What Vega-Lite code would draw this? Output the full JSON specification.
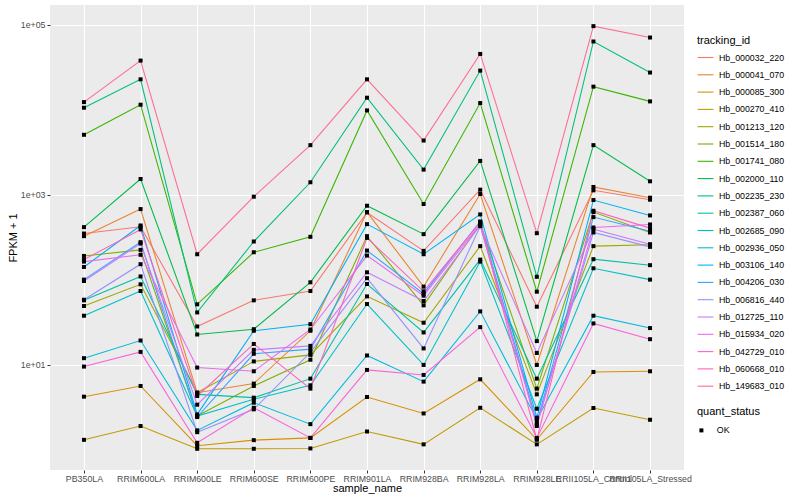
{
 "$schema": "https://vega.github.io/schema/vega-lite/v6.json",
 "width": 634, "height": 465,
 "autosize": {"type": "none"},
 "padding": {"left": 50, "top": 5, "right": 116, "bottom": 30},
 "background": "white",
 "config": {
   "font": "Liberation Sans",
   "view": {"fill": "#EBEBEB", "stroke": null},
   "axis": {"labelFont": "Liberation Sans", "labelFontSize": 8.8, "labelColor": "#4D4D4D", "titleFont": "Liberation Sans", "titleFontSize": 11, "titleFontWeight": "normal", "titleColor": "black", "tickColor": "#333333", "tickSize": 3, "domain": false, "gridColor": "white", "gridWidth": 1.1, "labelPadding": 2},
   "legend": {"titleFont": "Liberation Sans", "labelFont": "Liberation Sans", "titleFontSize": 11, "titleFontWeight": "normal", "labelFontSize": 8.8, "labelColor": "black", "titleColor": "black"}
 },
 "data": {"values": [
  {"id":"Hb_000032_220","s":"PB350LA","v":349},{"id":"Hb_000032_220","s":"RRIM600LA","v":419},{"id":"Hb_000032_220","s":"RRIM600LE","v":28.1},{"id":"Hb_000032_220","s":"RRIM600SE","v":57},{"id":"Hb_000032_220","s":"RRIM600PE","v":73.5},{"id":"Hb_000032_220","s":"RRIM901LA","v":618},{"id":"Hb_000032_220","s":"RRIM928BA","v":218},{"id":"Hb_000032_220","s":"RRIM928LA","v":1146},{"id":"Hb_000032_220","s":"RRIM928LE","v":48},{"id":"Hb_000032_220","s":"RRII105LA_Control","v":1125},{"id":"Hb_000032_220","s":"RRII105LA_Stressed","v":873},
  {"id":"Hb_000041_070","s":"PB350LA","v":325},{"id":"Hb_000041_070","s":"RRIM600LA","v":677},{"id":"Hb_000041_070","s":"RRIM600LE","v":4.67},{"id":"Hb_000041_070","s":"RRIM600SE","v":5.97},{"id":"Hb_000041_070","s":"RRIM600PE","v":25},{"id":"Hb_000041_070","s":"RRIM901LA","v":624},{"id":"Hb_000041_070","s":"RRIM928BA","v":82.7},{"id":"Hb_000041_070","s":"RRIM928LA","v":1018},{"id":"Hb_000041_070","s":"RRIM928LE","v":9.9},{"id":"Hb_000041_070","s":"RRII105LA_Control","v":1233},{"id":"Hb_000041_070","s":"RRII105LA_Stressed","v":922},
  {"id":"Hb_000085_300","s":"PB350LA","v":4.19},{"id":"Hb_000085_300","s":"RRIM600LA","v":5.6},{"id":"Hb_000085_300","s":"RRIM600LE","v":1.11},{"id":"Hb_000085_300","s":"RRIM600SE","v":1.29},{"id":"Hb_000085_300","s":"RRIM600PE","v":1.37},{"id":"Hb_000085_300","s":"RRIM901LA","v":4.15},{"id":"Hb_000085_300","s":"RRIM928BA","v":2.66},{"id":"Hb_000085_300","s":"RRIM928LA","v":6.71},{"id":"Hb_000085_300","s":"RRIM928LE","v":1.31},{"id":"Hb_000085_300","s":"RRII105LA_Control","v":8.19},{"id":"Hb_000085_300","s":"RRII105LA_Stressed","v":8.34},
  {"id":"Hb_000270_410","s":"PB350LA","v":1.3},{"id":"Hb_000270_410","s":"RRIM600LA","v":1.89},{"id":"Hb_000270_410","s":"RRIM600LE","v":1.02},{"id":"Hb_000270_410","s":"RRIM600SE","v":1.02},{"id":"Hb_000270_410","s":"RRIM600PE","v":1.03},{"id":"Hb_000270_410","s":"RRIM901LA","v":1.63},{"id":"Hb_000270_410","s":"RRIM928BA","v":1.15},{"id":"Hb_000270_410","s":"RRIM928LA","v":3.1},{"id":"Hb_000270_410","s":"RRIM928LE","v":1.15},{"id":"Hb_000270_410","s":"RRII105LA_Control","v":3.08},{"id":"Hb_000270_410","s":"RRII105LA_Stressed","v":2.24},
  {"id":"Hb_001213_120","s":"PB350LA","v":48.9},{"id":"Hb_001213_120","s":"RRIM600LA","v":88.1},{"id":"Hb_001213_120","s":"RRIM600LE","v":4.67},{"id":"Hb_001213_120","s":"RRIM600SE","v":10.9},{"id":"Hb_001213_120","s":"RRIM600PE","v":13},{"id":"Hb_001213_120","s":"RRIM901LA","v":63.5},{"id":"Hb_001213_120","s":"RRIM928BA","v":31.1},{"id":"Hb_001213_120","s":"RRIM928LA","v":248},{"id":"Hb_001213_120","s":"RRIM928LE","v":4.46},{"id":"Hb_001213_120","s":"RRII105LA_Control","v":248},{"id":"Hb_001213_120","s":"RRII105LA_Stressed","v":257},
  {"id":"Hb_001514_180","s":"PB350LA","v":190},{"id":"Hb_001514_180","s":"RRIM600LA","v":224},{"id":"Hb_001514_180","s":"RRIM600LE","v":2.48},{"id":"Hb_001514_180","s":"RRIM600SE","v":5.6},{"id":"Hb_001514_180","s":"RRIM600PE","v":11.4},{"id":"Hb_001514_180","s":"RRIM901LA","v":325},{"id":"Hb_001514_180","s":"RRIM928BA","v":49.8},{"id":"Hb_001514_180","s":"RRIM928LA","v":454},{"id":"Hb_001514_180","s":"RRIM928LE","v":5.21},{"id":"Hb_001514_180","s":"RRII105LA_Control","v":624},{"id":"Hb_001514_180","s":"RRII105LA_Stressed","v":359},
  {"id":"Hb_001741_080","s":"PB350LA","v":5070},{"id":"Hb_001741_080","s":"RRIM600LA","v":11460},{"id":"Hb_001741_080","s":"RRIM600LE","v":51.2},{"id":"Hb_001741_080","s":"RRIM600SE","v":210},{"id":"Hb_001741_080","s":"RRIM600PE","v":319},{"id":"Hb_001741_080","s":"RRIM901LA","v":9820},{"id":"Hb_001741_080","s":"RRIM928BA","v":776},{"id":"Hb_001741_080","s":"RRIM928LA","v":11990},{"id":"Hb_001741_080","s":"RRIM928LE","v":72.1},{"id":"Hb_001741_080","s":"RRII105LA_Control","v":18700},{"id":"Hb_001741_080","s":"RRII105LA_Stressed","v":12540},
  {"id":"Hb_002000_110","s":"PB350LA","v":415},{"id":"Hb_002000_110","s":"RRIM600LA","v":1531},{"id":"Hb_002000_110","s":"RRIM600LE","v":22.6},{"id":"Hb_002000_110","s":"RRIM600SE","v":26.1},{"id":"Hb_002000_110","s":"RRIM600PE","v":93},{"id":"Hb_002000_110","s":"RRIM901LA","v":741},{"id":"Hb_002000_110","s":"RRIM928BA","v":343},{"id":"Hb_002000_110","s":"RRIM928LA","v":2500},{"id":"Hb_002000_110","s":"RRIM928LE","v":18.9},{"id":"Hb_002000_110","s":"RRII105LA_Control","v":3830},{"id":"Hb_002000_110","s":"RRII105LA_Stressed","v":1437},
  {"id":"Hb_002235_230","s":"PB350LA","v":10560},{"id":"Hb_002235_230","s":"RRIM600LA","v":22800},{"id":"Hb_002235_230","s":"RRIM600LE","v":41.1},{"id":"Hb_002235_230","s":"RRIM600SE","v":281},{"id":"Hb_002235_230","s":"RRIM600PE","v":1400},{"id":"Hb_002235_230","s":"RRIM901LA","v":13860},{"id":"Hb_002235_230","s":"RRIM928BA","v":1973},{"id":"Hb_002235_230","s":"RRIM928LA","v":28900},{"id":"Hb_002235_230","s":"RRIM928LE","v":108},{"id":"Hb_002235_230","s":"RRII105LA_Control","v":63600},{"id":"Hb_002235_230","s":"RRII105LA_Stressed","v":27400},
  {"id":"Hb_002387_060","s":"PB350LA","v":57},{"id":"Hb_002387_060","s":"RRIM600LA","v":109},{"id":"Hb_002387_060","s":"RRIM600LE","v":4.46},{"id":"Hb_002387_060","s":"RRIM600SE","v":4.08},{"id":"Hb_002387_060","s":"RRIM600PE","v":6.83},{"id":"Hb_002387_060","s":"RRIM901LA","v":88.9},{"id":"Hb_002387_060","s":"RRIM928BA","v":23.9},{"id":"Hb_002387_060","s":"RRIM928LA","v":172},{"id":"Hb_002387_060","s":"RRIM928LE","v":6.83},{"id":"Hb_002387_060","s":"RRII105LA_Control","v":174},{"id":"Hb_002387_060","s":"RRII105LA_Stressed","v":148},
  {"id":"Hb_002685_090","s":"PB350LA","v":37.6},{"id":"Hb_002685_090","s":"RRIM600LA","v":73.5},{"id":"Hb_002685_090","s":"RRIM600LE","v":2.48},{"id":"Hb_002685_090","s":"RRIM600SE","v":3.9},{"id":"Hb_002685_090","s":"RRIM600PE","v":5.7},{"id":"Hb_002685_090","s":"RRIM901LA","v":51.6},{"id":"Hb_002685_090","s":"RRIM928BA","v":9.9},{"id":"Hb_002685_090","s":"RRIM928LA","v":163},{"id":"Hb_002685_090","s":"RRIM928LE","v":3.02},{"id":"Hb_002685_090","s":"RRII105LA_Control","v":136},{"id":"Hb_002685_090","s":"RRII105LA_Stressed","v":100},
  {"id":"Hb_002936_050","s":"PB350LA","v":11.9},{"id":"Hb_002936_050","s":"RRIM600LA","v":19.2},{"id":"Hb_002936_050","s":"RRIM600LE","v":1.68},{"id":"Hb_002936_050","s":"RRIM600SE","v":3.56},{"id":"Hb_002936_050","s":"RRIM600PE","v":1.99},{"id":"Hb_002936_050","s":"RRIM901LA","v":12.8},{"id":"Hb_002936_050","s":"RRIM928BA","v":6.3},{"id":"Hb_002936_050","s":"RRIM928LA","v":42.3},{"id":"Hb_002936_050","s":"RRIM928LE","v":2.26},{"id":"Hb_002936_050","s":"RRII105LA_Control","v":37.6},{"id":"Hb_002936_050","s":"RRII105LA_Stressed","v":26.9},
  {"id":"Hb_003106_140","s":"PB350LA","v":141},{"id":"Hb_003106_140","s":"RRIM600LA","v":434},{"id":"Hb_003106_140","s":"RRIM600LE","v":2.59},{"id":"Hb_003106_140","s":"RRIM600SE","v":25},{"id":"Hb_003106_140","s":"RRIM600PE","v":29.9},{"id":"Hb_003106_140","s":"RRIM901LA","v":450},{"id":"Hb_003106_140","s":"RRIM928BA","v":199},{"id":"Hb_003106_140","s":"RRIM928LA","v":586},{"id":"Hb_003106_140","s":"RRIM928LE","v":2.37},{"id":"Hb_003106_140","s":"RRII105LA_Control","v":865},{"id":"Hb_003106_140","s":"RRII105LA_Stressed","v":570},
  {"id":"Hb_004206_030","s":"PB350LA","v":100},{"id":"Hb_004206_030","s":"RRIM600LA","v":276},{"id":"Hb_004206_030","s":"RRIM600LE","v":2.41},{"id":"Hb_004206_030","s":"RRIM600SE","v":13.4},{"id":"Hb_004206_030","s":"RRIM600PE","v":15.2},{"id":"Hb_004206_030","s":"RRIM901LA","v":220},{"id":"Hb_004206_030","s":"RRIM928BA","v":68.3},{"id":"Hb_004206_030","s":"RRIM928LA","v":484},{"id":"Hb_004206_030","s":"RRIM928LE","v":2.07},{"id":"Hb_004206_030","s":"RRII105LA_Control","v":545},{"id":"Hb_004206_030","s":"RRII105LA_Stressed","v":372},
  {"id":"Hb_006816_440","s":"PB350LA","v":58},{"id":"Hb_006816_440","s":"RRIM600LA","v":152},{"id":"Hb_006816_440","s":"RRIM600LE","v":1.6},{"id":"Hb_006816_440","s":"RRIM600SE","v":2.97},{"id":"Hb_006816_440","s":"RRIM600PE","v":13.9},{"id":"Hb_006816_440","s":"RRIM901LA","v":104},{"id":"Hb_006816_440","s":"RRIM928BA","v":15.5},{"id":"Hb_006816_440","s":"RRIM928LA","v":426},{"id":"Hb_006816_440","s":"RRIM928LE","v":1.97},{"id":"Hb_006816_440","s":"RRII105LA_Control","v":359},{"id":"Hb_006816_440","s":"RRII105LA_Stressed","v":243},
  {"id":"Hb_012725_110","s":"PB350LA","v":96.4},{"id":"Hb_012725_110","s":"RRIM600LA","v":266},{"id":"Hb_012725_110","s":"RRIM600LE","v":3.37},{"id":"Hb_012725_110","s":"RRIM600SE","v":14.9},{"id":"Hb_012725_110","s":"RRIM600PE","v":16.6},{"id":"Hb_012725_110","s":"RRIM901LA","v":122},{"id":"Hb_012725_110","s":"RRIM928BA","v":56},{"id":"Hb_012725_110","s":"RRIM928LA","v":434},{"id":"Hb_012725_110","s":"RRIM928LE","v":13.7},{"id":"Hb_012725_110","s":"RRII105LA_Control","v":393},{"id":"Hb_012725_110","s":"RRII105LA_Stressed","v":261},
  {"id":"Hb_015934_020","s":"PB350LA","v":163},{"id":"Hb_015934_020","s":"RRIM600LA","v":196},{"id":"Hb_015934_020","s":"RRIM600LE","v":9.22},{"id":"Hb_015934_020","s":"RRIM600SE","v":8.34},{"id":"Hb_015934_020","s":"RRIM600PE","v":25.9},{"id":"Hb_015934_020","s":"RRIM901LA","v":192},{"id":"Hb_015934_020","s":"RRIM928BA","v":64.7},{"id":"Hb_015934_020","s":"RRIM928LA","v":454},{"id":"Hb_015934_020","s":"RRIM928LE","v":1.89},{"id":"Hb_015934_020","s":"RRII105LA_Control","v":411},{"id":"Hb_015934_020","s":"RRII105LA_Stressed","v":446},
  {"id":"Hb_042729_010","s":"PB350LA","v":9.47},{"id":"Hb_042729_010","s":"RRIM600LA","v":14.1},{"id":"Hb_042729_010","s":"RRIM600LE","v":1.2},{"id":"Hb_042729_010","s":"RRIM600SE","v":3.1},{"id":"Hb_042729_010","s":"RRIM600PE","v":1.37},{"id":"Hb_042729_010","s":"RRIM901LA","v":8.65},{"id":"Hb_042729_010","s":"RRIM928BA","v":7.55},{"id":"Hb_042729_010","s":"RRIM928LA","v":27.6},{"id":"Hb_042729_010","s":"RRIM928LE","v":1.37},{"id":"Hb_042729_010","s":"RRII105LA_Control","v":30.5},{"id":"Hb_042729_010","s":"RRII105LA_Stressed","v":19.9},
  {"id":"Hb_060668_010","s":"PB350LA","v":172},{"id":"Hb_060668_010","s":"RRIM600LA","v":390},{"id":"Hb_060668_010","s":"RRIM600LE","v":4.27},{"id":"Hb_060668_010","s":"RRIM600SE","v":17.5},{"id":"Hb_060668_010","s":"RRIM600PE","v":5.21},{"id":"Hb_060668_010","s":"RRIM901LA","v":310},{"id":"Hb_060668_010","s":"RRIM928BA","v":72.8},{"id":"Hb_060668_010","s":"RRIM928LA","v":476},{"id":"Hb_060668_010","s":"RRIM928LE","v":1.31},{"id":"Hb_060668_010","s":"RRII105LA_Control","v":647},{"id":"Hb_060668_010","s":"RRII105LA_Stressed","v":404},
  {"id":"Hb_149683_010","s":"PB350LA","v":12300},{"id":"Hb_149683_010","s":"RRIM600LA","v":37900},{"id":"Hb_149683_010","s":"RRIM600LE","v":199},{"id":"Hb_149683_010","s":"RRIM600SE","v":947},{"id":"Hb_149683_010","s":"RRIM600PE","v":3830},{"id":"Hb_149683_010","s":"RRIM901LA","v":22800},{"id":"Hb_149683_010","s":"RRIM928BA","v":4340},{"id":"Hb_149683_010","s":"RRIM928LA","v":45400},{"id":"Hb_149683_010","s":"RRIM928LE","v":352},{"id":"Hb_149683_010","s":"RRII105LA_Control","v":96400},{"id":"Hb_149683_010","s":"RRII105LA_Stressed","v":70800}
 ]},
 "transform": [{"calculate": "'OK'", "as": "quant_status"}],
 "encoding": {
   "x": {"field": "s", "type": "nominal", "sort": ["PB350LA","RRIM600LA","RRIM600LE","RRIM600SE","RRIM600PE","RRIM901LA","RRIM928BA","RRIM928LA","RRIM928LE","RRII105LA_Control","RRII105LA_Stressed"], "scale": {"type": "point", "padding": 0.6}, "axis": {"title": "sample_name", "labelAngle": 0, "labelOverlap": false, "grid": true, "titlePadding": 0, "labelPadding": 1}}
 },
 "layer": [
   {"mark": {"type": "line", "strokeWidth": 1.07},
    "encoding": {
      "y": {"field": "v", "type": "quantitative", "scale": {"type": "log", "domain": [0.574, 171000], "nice": false, "zero": false}, "axis": {"title": "FPKM + 1", "values": [10, 1000, 100000], "labelExpr": "datum.value >= 100000 ? '1e+05' : datum.value >= 1000 ? '1e+03' : '1e+01'", "titlePadding": 2}},
      "color": {"field": "id", "type": "nominal", "title": "tracking_id",
        "scale": {"domain": ["Hb_000032_220","Hb_000041_070","Hb_000085_300","Hb_000270_410","Hb_001213_120","Hb_001514_180","Hb_001741_080","Hb_002000_110","Hb_002235_230","Hb_002387_060","Hb_002685_090","Hb_002936_050","Hb_003106_140","Hb_004206_030","Hb_006816_440","Hb_012725_110","Hb_015934_020","Hb_042729_010","Hb_060668_010","Hb_149683_010"],
                  "range": ["#F8766D","#EA8331","#D89000","#C09B00","#A3A500","#7CAE00","#39B600","#00BB4E","#00BF7D","#00C1A3","#00BFC4","#00BAE0","#00B0F6","#35A2FF","#9590FF","#C77CFF","#E76BF3","#FA62DB","#FF62BC","#FF6C91"]},
        "legend": {"orient": "none", "legendX": 647, "legendY": 30, "symbolType": "stroke", "symbolSize": 250, "symbolStrokeWidth": 1.1, "rowPadding": 3.3, "labelOffset": 5, "titlePadding": 3}}
    }},
   {"mark": {"type": "point", "filled": true, "color": "black", "size": 16, "opacity": 1},
    "encoding": {
      "y": {"field": "v", "type": "quantitative", "axis": {"orient": "right", "values": [1, 100, 10000], "labels": false, "ticks": false, "domain": false, "title": null, "gridWidth": 0.55}},
      "shape": {"field": "quant_status", "type": "nominal", "title": "quant_status", "scale": {"range": ["square"]}, "legend": {"orient": "none", "legendX": 647, "legendY": 401, "symbolFillColor": "black", "symbolStrokeColor": "black", "symbolSize": 16, "labelOffset": 11, "titlePadding": 9}}
    }}
 ],
 "resolve": {"axis": {"y": "independent"}}
}
